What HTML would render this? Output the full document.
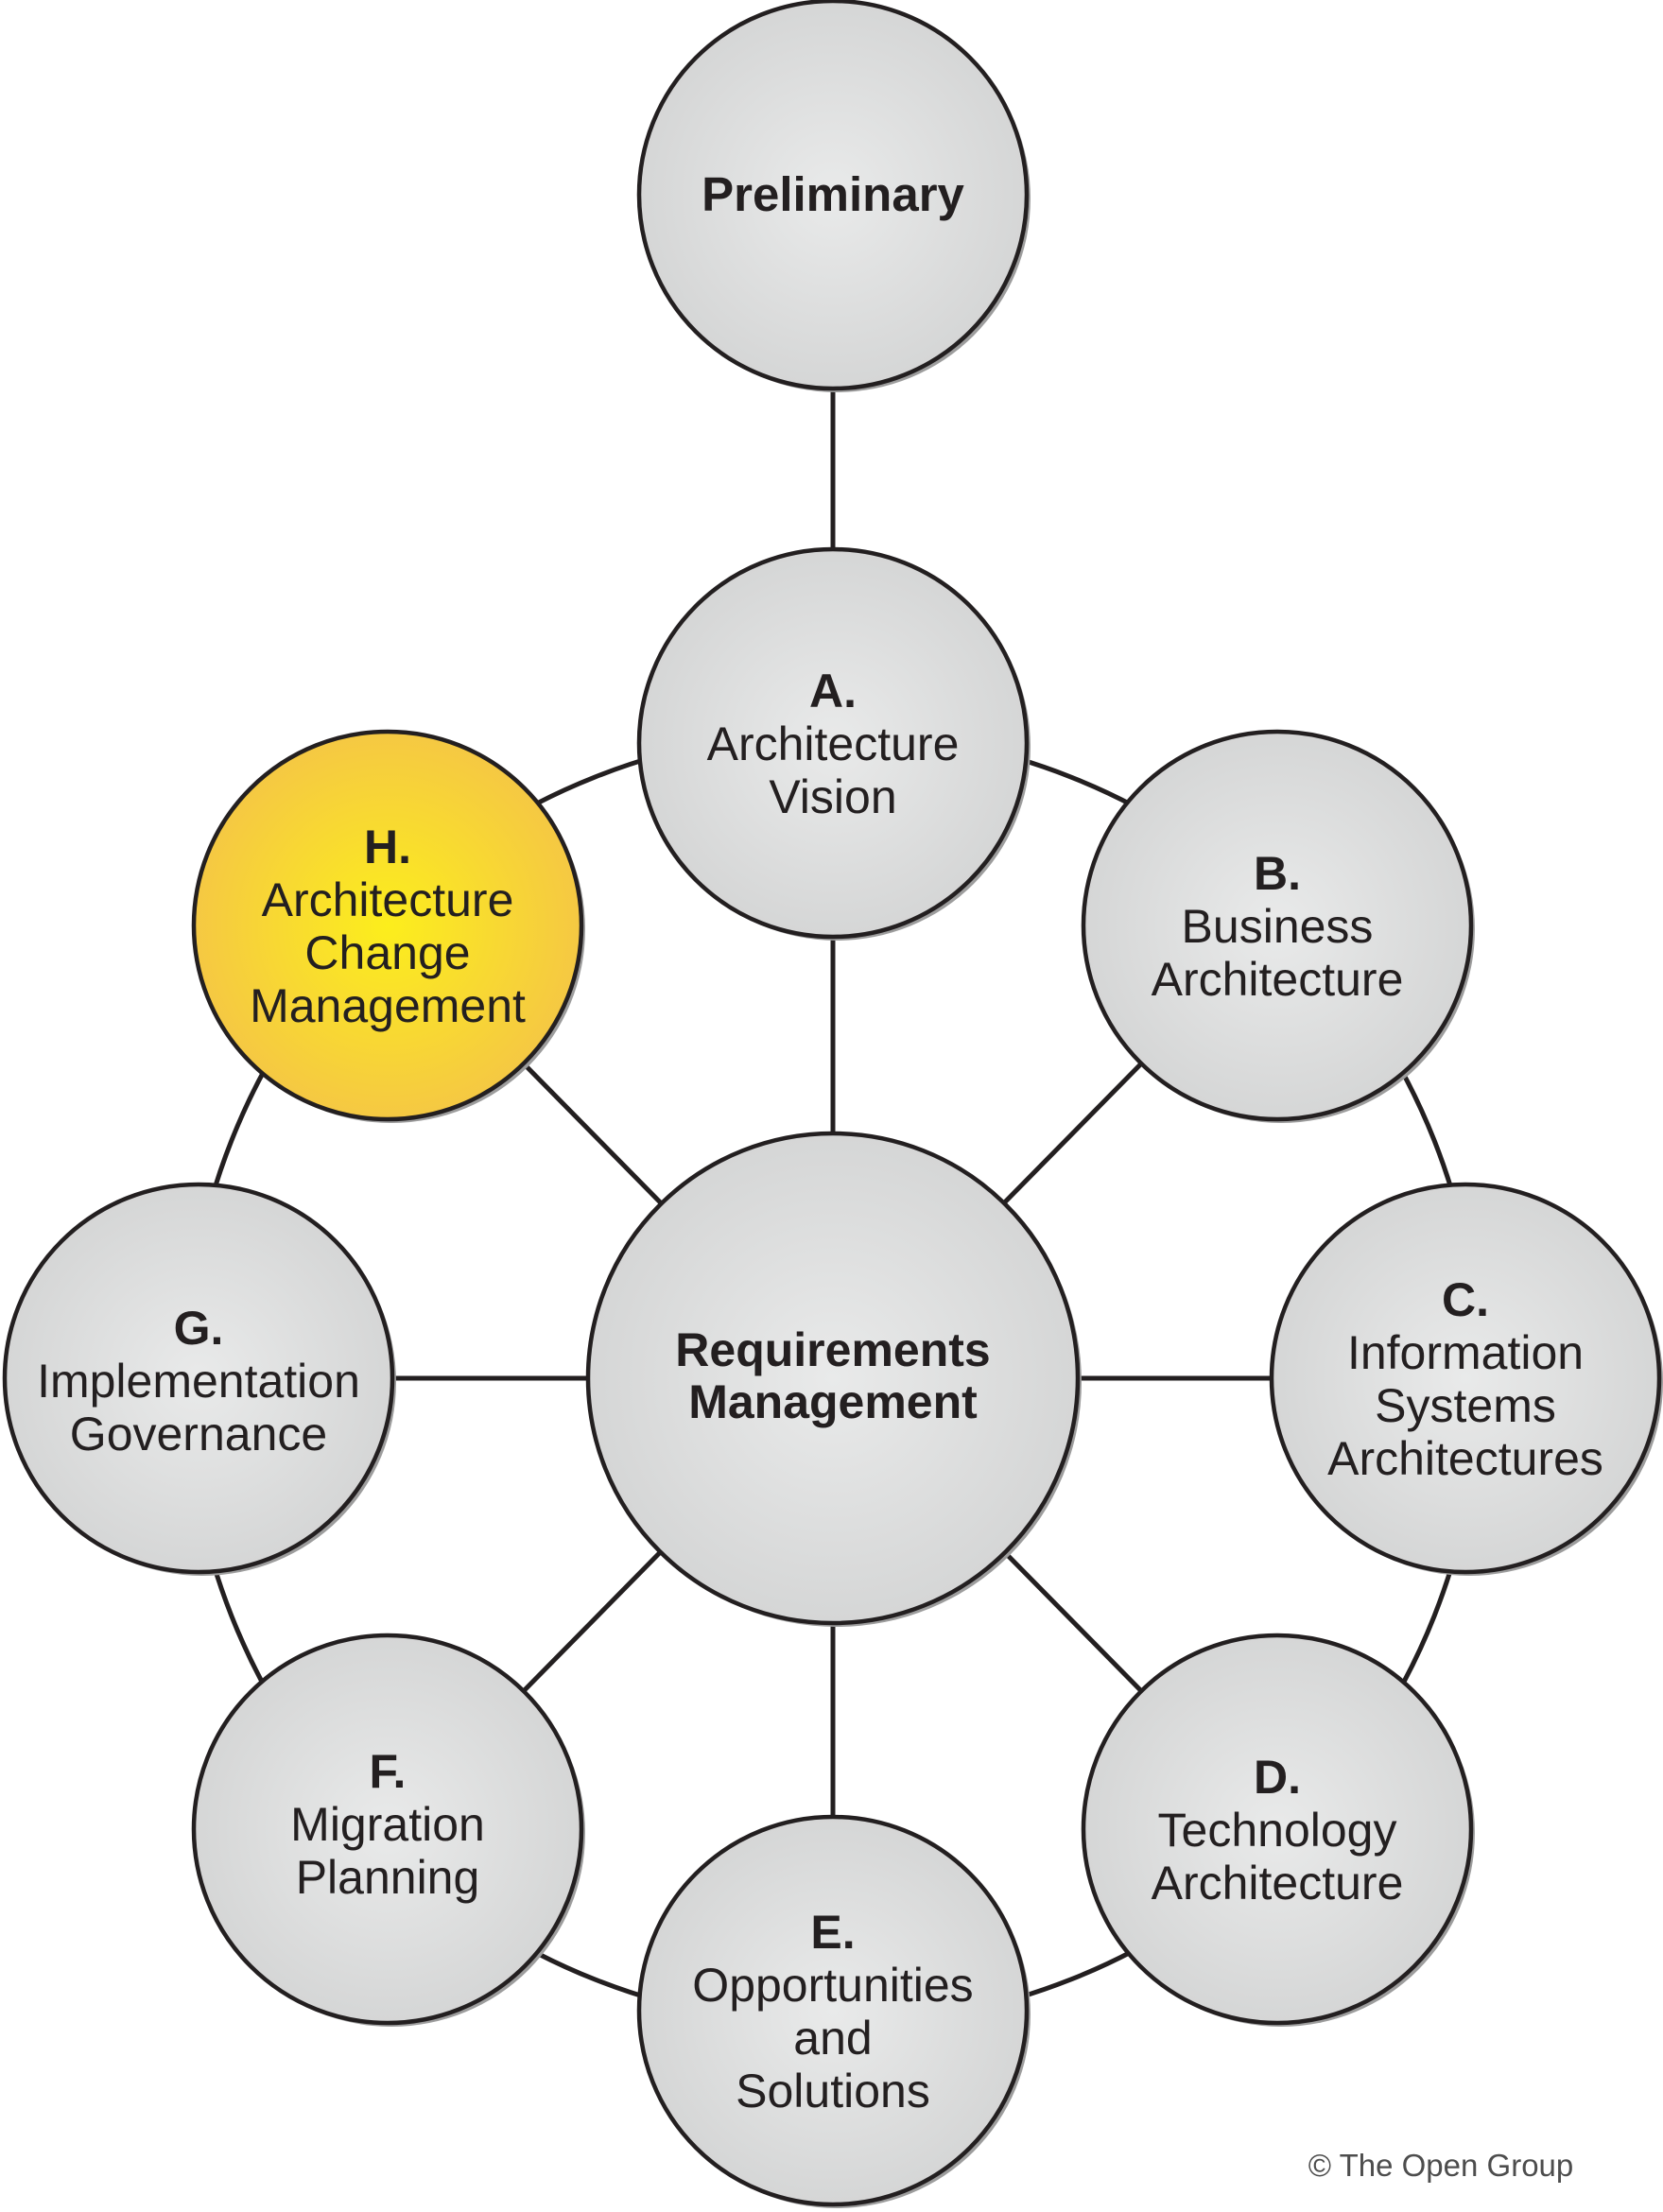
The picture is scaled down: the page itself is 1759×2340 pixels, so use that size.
<!DOCTYPE html>
<html><head><meta charset="utf-8"><style>
html,body{margin:0;padding:0;background:#fff}
svg{display:block}
text{font-family:"Liberation Sans",Arial,sans-serif;fill:#231f20;text-anchor:middle}
</style></head><body>
<svg width="1759" height="2340" viewBox="0 0 1759 2340" xmlns="http://www.w3.org/2000/svg">
<defs>
<radialGradient id="g" cx="50%" cy="50%" r="50%">
<stop offset="0" stop-color="#e9eaea"/><stop offset="1" stop-color="#d5d6d6"/></radialGradient>
<radialGradient id="y" cx="50%" cy="50%" r="50%">
<stop offset="0" stop-color="#fcee1c"/><stop offset="1" stop-color="#f5c843"/></radialGradient>
</defs>
<g stroke="#231f20" stroke-width="5" fill="none">
<circle cx="881" cy="1458" r="684"/>
<line x1="881" y1="206" x2="881" y2="786"/>
<line x1="881" y1="786" x2="881" y2="2127"/>
<line x1="210" y1="1458" x2="1550" y2="1458"/>
<line x1="410" y1="979" x2="1351" y2="1935"/>
<line x1="1351" y1="979" x2="410" y2="1935"/>
</g>
<g stroke="#231f20" stroke-width="4.5">
<circle cx="885" cy="210" r="205" fill="#9d9d9d" stroke="none"/>
<circle cx="881" cy="206" r="205" fill="url(#g)"/>
<circle cx="885" cy="790" r="205" fill="#9d9d9d" stroke="none"/>
<circle cx="881" cy="786" r="205" fill="url(#g)"/>
<circle cx="414" cy="983" r="205" fill="#9d9d9d" stroke="none"/>
<circle cx="410" cy="979" r="205" fill="url(#y)"/>
<circle cx="1355" cy="983" r="205" fill="#9d9d9d" stroke="none"/>
<circle cx="1351" cy="979" r="205" fill="url(#g)"/>
<circle cx="1554" cy="1462" r="205" fill="#9d9d9d" stroke="none"/>
<circle cx="1550" cy="1458" r="205" fill="url(#g)"/>
<circle cx="214" cy="1462" r="205" fill="#9d9d9d" stroke="none"/>
<circle cx="210" cy="1458" r="205" fill="url(#g)"/>
<circle cx="885" cy="1462" r="259" fill="#9d9d9d" stroke="none"/>
<circle cx="881" cy="1458" r="259" fill="url(#g)"/>
<circle cx="414" cy="1939" r="205" fill="#9d9d9d" stroke="none"/>
<circle cx="410" cy="1935" r="205" fill="url(#g)"/>
<circle cx="1355" cy="1939" r="205" fill="#9d9d9d" stroke="none"/>
<circle cx="1351" cy="1935" r="205" fill="url(#g)"/>
<circle cx="885" cy="2131" r="205" fill="#9d9d9d" stroke="none"/>
<circle cx="881" cy="2127" r="205" fill="url(#g)"/>
</g>
<g font-size="50">
<text x="881" y="223" font-weight="bold" font-size="51">Preliminary</text>
<text x="881" y="748" font-weight="bold">A.</text>
<text x="881" y="804">Architecture</text>
<text x="881" y="860">Vision</text>
<text x="410" y="913" font-weight="bold">H.</text>
<text x="410" y="969">Architecture</text>
<text x="410" y="1025">Change</text>
<text x="410" y="1081">Management</text>
<text x="1351" y="941" font-weight="bold">B.</text>
<text x="1351" y="997">Business</text>
<text x="1351" y="1053">Architecture</text>
<text x="1550" y="1392" font-weight="bold">C.</text>
<text x="1550" y="1448">Information</text>
<text x="1550" y="1504">Systems</text>
<text x="1550" y="1560">Architectures</text>
<text x="210" y="1422" font-weight="bold">G.</text>
<text x="210" y="1478">Implementation</text>
<text x="210" y="1534">Governance</text>
<text x="881" y="1445" font-weight="bold" font-size="50">Requirements</text>
<text x="881" y="1500" font-weight="bold" font-size="50">Management</text>
<text x="410" y="1891" font-weight="bold">F.</text>
<text x="410" y="1947">Migration</text>
<text x="410" y="2003">Planning</text>
<text x="1351" y="1897" font-weight="bold">D.</text>
<text x="1351" y="1953">Technology</text>
<text x="1351" y="2009">Architecture</text>
<text x="881" y="2061" font-weight="bold">E.</text>
<text x="881" y="2117">Opportunities</text>
<text x="881" y="2173">and</text>
<text x="881" y="2229">Solutions</text>
</g>
<text x="1524" y="2302" font-size="33" style="fill:#4d4d4d">© The Open Group</text>
</svg>
</body></html>
